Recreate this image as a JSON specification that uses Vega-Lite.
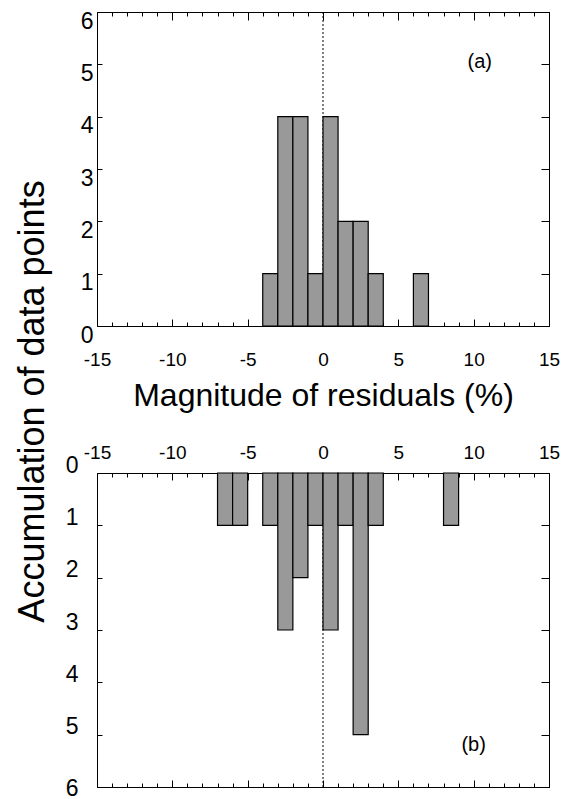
{
  "$schema": "https://vega.github.io/schema/vega-lite/v6.json",
  "background": "white",
  "padding": {"left": 13, "top": 9, "right": 5, "bottom": 0},
  "bounds": "flush",
  "spacing": 147,
  "datasets": {
    "a": [
      {"start": -4, "end": -3, "count": 1},
      {"start": -3, "end": -2, "count": 4},
      {"start": -2, "end": -1, "count": 4},
      {"start": -1, "end": 0, "count": 1},
      {"start": 0, "end": 1, "count": 4},
      {"start": 1, "end": 2, "count": 2},
      {"start": 2, "end": 3, "count": 2},
      {"start": 3, "end": 4, "count": 1},
      {"start": 6, "end": 7, "count": 1}
    ],
    "b": [
      {"start": -7, "end": -6, "count": 1},
      {"start": -6, "end": -5, "count": 1},
      {"start": -4, "end": -3, "count": 1},
      {"start": -3, "end": -2, "count": 3},
      {"start": -2, "end": -1, "count": 2},
      {"start": -1, "end": 0, "count": 1},
      {"start": 0, "end": 1, "count": 3},
      {"start": 1, "end": 2, "count": 1},
      {"start": 2, "end": 3, "count": 5},
      {"start": 3, "end": 4, "count": 1},
      {"start": 8, "end": 9, "count": 1}
    ],
    "ref": [{"x": 0}],
    "la": [{"x": 10.4, "y": 5.05, "label": "(a)"}],
    "lb": [{"x": 10.0, "y": 5.19, "label": "(b)"}]
  },
  "config": {
    "view": {"stroke": "black", "strokeWidth": 1},
    "font": "Liberation Sans",
    "axis": {
      "domain": false,
      "grid": false,
      "tickColor": "black",
      "labelColor": "black",
      "titleColor": "black",
      "labelFont": "Liberation Sans",
      "titleFont": "Liberation Sans",
      "titleFontWeight": "normal",
      "labelFlush": false,
      "labelOverlap": false,
      "labelExpr": "replace(datum.label, '−', '-')"
    }
  },
  "vconcat": [
    {
      "width": 452,
      "height": 314,
      "layer": [
        {
          "data": {"name": "ref"},
          "mark": {"type": "rule", "color": "black", "strokeWidth": 1, "strokeDash": [2, 2]},
          "encoding": {
            "x": {"field": "x", "type": "quantitative", "scale": {"domain": [-15, 15], "nice": false},
              "axis": {"orient": "bottom", "values": [-15,-14,-13,-12,-11,-10,-9,-8,-7,-6,-5,-4,-3,-2,-1,0,1,2,3,4,5,6,7,8,9,10,11,12,13,14,15], "tickSize": -4, "labels": false, "title": null}},
            "y": {"datum": 0, "type": "quantitative", "scale": {"domain": [0, 6], "nice": false}, "axis": null},
            "y2": {"datum": 6}
          }
        },
        {
          "data": {"name": "a"},
          "mark": {"type": "bar", "fill": "#999999", "stroke": "black", "strokeWidth": 1.2},
          "encoding": {
            "x": {"field": "start", "type": "quantitative", "scale": {"domain": [-15, 15], "nice": false},
              "axis": {"orient": "bottom", "values": [-15, -10, -5, 0, 5, 10, 15], "tickSize": -7, "labelPadding": 31, "labelFontSize": 19,
                "title": "Magnitude of residuals (%)", "titleFontSize": 32, "titleY": 69, "titleBaseline": "middle"}},
            "x2": {"field": "end"},
            "y": {"field": "count", "type": "quantitative", "scale": {"domain": [0, 6], "nice": false},
              "axis": {"orient": "left", "values": [0, 1, 2, 3, 4, 5, 6], "tickSize": -5, "labelPadding": 9, "labelOffset": 9, "labelFontSize": 23,
                "title": "Accumulation of data points", "titleFontSize": 36, "titleAngle": -90, "titleX": -65, "titleY": 389, "titleBaseline": "middle", "titleAlign": "center"}},
            "y2": {"datum": 0}
          }
        },
        {
          "data": {"name": "la"},
          "mark": {"type": "text", "fontSize": 20, "font": "Liberation Sans", "color": "black"},
          "encoding": {
            "x": {"field": "x", "type": "quantitative", "scale": {"domain": [-15, 15], "nice": false},
              "axis": {"orient": "top", "values": [-15, -10, -5, 0, 5, 10, 15], "tickSize": -8, "labels": false, "title": null}},
            "y": {"field": "y", "type": "quantitative", "scale": {"domain": [0, 6], "nice": false},
              "axis": {"orient": "right", "values": [0, 1, 2, 3, 4, 5, 6], "tickSize": -8, "labels": false, "title": null}},
            "text": {"field": "label"}
          }
        },
        {
          "data": {"name": "a"},
          "mark": {"type": "tick", "opacity": 0},
          "encoding": {
            "x": {"field": "start", "type": "quantitative", "scale": {"domain": [-15, 15], "nice": false},
              "axis": {"orient": "top", "values": [-15,-14,-13,-12,-11,-10,-9,-8,-7,-6,-5,-4,-3,-2,-1,0,1,2,3,4,5,6,7,8,9,10,11,12,13,14,15], "tickSize": -4, "labels": false, "title": null}},
            "y": {"field": "count", "type": "quantitative", "scale": {"domain": [0, 6], "nice": false}, "axis": null}
          }
        }
      ],
      "resolve": {"axis": {"x": "independent", "y": "independent"}}
    },
    {
      "width": 452,
      "height": 314,
      "layer": [
        {
          "data": {"name": "ref"},
          "mark": {"type": "rule", "color": "black", "strokeWidth": 1, "strokeDash": [2, 2]},
          "encoding": {
            "x": {"field": "x", "type": "quantitative", "scale": {"domain": [-15, 15], "nice": false},
              "axis": {"orient": "bottom", "values": [-15,-14,-13,-12,-11,-10,-9,-8,-7,-6,-5,-4,-3,-2,-1,0,1,2,3,4,5,6,7,8,9,10,11,12,13,14,15], "tickSize": -4, "labels": false, "title": null}},
            "y": {"datum": 0, "type": "quantitative", "scale": {"domain": [0, 6], "nice": false, "reverse": true}, "axis": null},
            "y2": {"datum": 6}
          }
        },
        {
          "data": {"name": "b"},
          "mark": {"type": "bar", "fill": "#999999", "stroke": "black", "strokeWidth": 1.2},
          "encoding": {
            "x": {"field": "start", "type": "quantitative", "scale": {"domain": [-15, 15], "nice": false},
              "axis": {"orient": "top", "values": [-15, -10, -5, 0, 5, 10, 15], "tickSize": -7, "labelPadding": 18, "labelFontSize": 19, "title": null}},
            "x2": {"field": "end"},
            "y": {"field": "count", "type": "quantitative", "scale": {"domain": [0, 6], "nice": false, "reverse": true},
              "axis": {"orient": "left", "values": [0, 1, 2, 3, 4, 5, 6], "tickSize": -5, "labelPadding": 24, "labelFontSize": 23, "title": null,
                "labelOffset": {"condition": {"test": "datum.value == 6", "value": 1}, "value": -8}}},
            "y2": {"datum": 0}
          }
        },
        {
          "data": {"name": "lb"},
          "mark": {"type": "text", "fontSize": 20, "font": "Liberation Sans", "color": "black"},
          "encoding": {
            "x": {"field": "x", "type": "quantitative", "scale": {"domain": [-15, 15], "nice": false},
              "axis": {"orient": "bottom", "values": [-15, -10, -5, 0, 5, 10, 15], "tickSize": -7, "labels": false, "title": null}},
            "y": {"field": "y", "type": "quantitative", "scale": {"domain": [0, 6], "nice": false, "reverse": true},
              "axis": {"orient": "right", "values": [0, 1, 2, 3, 4, 5, 6], "tickSize": -8, "labels": false, "title": null}},
            "text": {"field": "label"}
          }
        },
        {
          "data": {"name": "b"},
          "mark": {"type": "tick", "opacity": 0},
          "encoding": {
            "x": {"field": "start", "type": "quantitative", "scale": {"domain": [-15, 15], "nice": false},
              "axis": {"orient": "top", "values": [-15,-14,-13,-12,-11,-10,-9,-8,-7,-6,-5,-4,-3,-2,-1,0,1,2,3,4,5,6,7,8,9,10,11,12,13,14,15], "tickSize": -4, "labels": false, "title": null}},
            "y": {"field": "count", "type": "quantitative", "scale": {"domain": [0, 6], "nice": false, "reverse": true}, "axis": null}
          }
        }
      ],
      "resolve": {"axis": {"x": "independent", "y": "independent"}}
    }
  ]
}
